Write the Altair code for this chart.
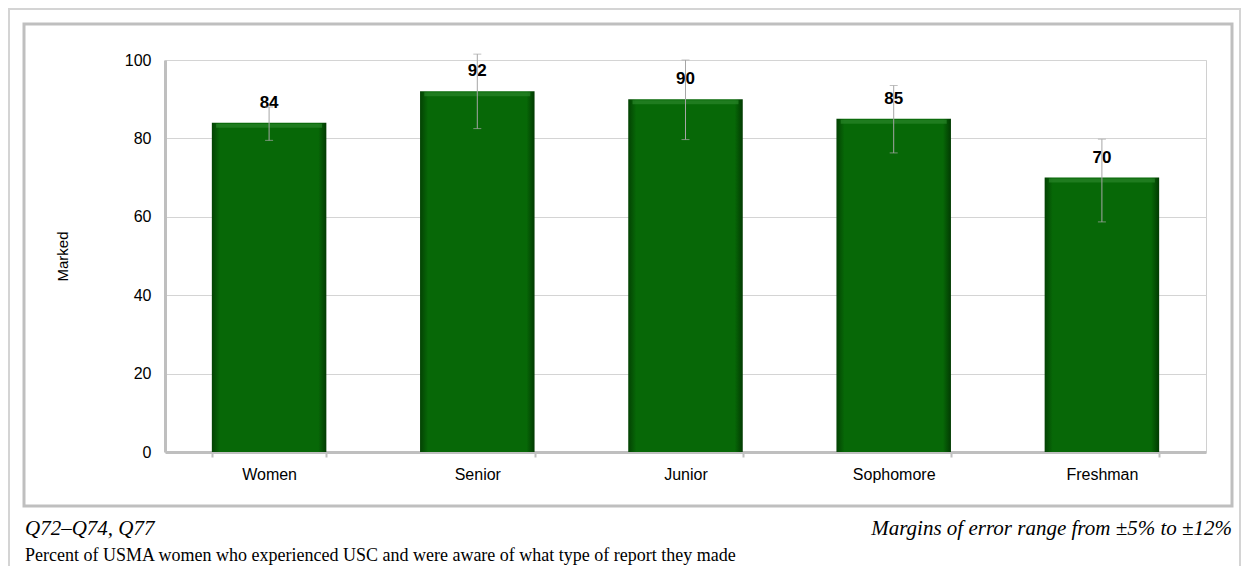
import altair as alt
import pandas as pd

categories = ["Women", "Senior", "Junior", "Sophomore", "Freshman"]
values = [84, 92, 90, 85, 70]
err_lo = [79.5, 82.5, 79.7, 76.3, 58.7]
err_hi = [88.0, 101.5, 100.0, 93.5, 79.8]
y_ticks = [0, 20, 40, 60, 80, 100]
y_title = "Marked"
note_left = "Q72–Q74, Q77"
note_right = "Margins of error range from ±5% to ±12%"
caption = "Percent of USMA  women who experienced USC and were aware of what type of report they made"

df = pd.DataFrame({"cat": categories, "val": values, "lo": err_lo, "hi": err_hi})
one = pd.DataFrame({"a": [0]})

W, H = 1041, 392
SANS = "Liberation Sans"
SERIF = "Liberation Serif"

x = alt.X("cat:N", sort=categories, title=None,
          scale=alt.Scale(paddingInner=0.45, paddingOuter=0.225),
          axis=alt.Axis(labelAngle=0, labelFont=SANS, labelFontSize=16, labelColor="#000",
                        domainColor="#bfbfbf", domainWidth=3, tickBand="extent",
                        tickColor="#bfbfbf", tickSize=5, tickWidth=2, labelPadding=9))
y = alt.Y("val:Q", title=y_title,
          scale=alt.Scale(domain=[0, 100], nice=False),
          axis=alt.Axis(values=y_ticks, labelFont=SANS, labelFontSize=16, labelColor="#000",
                        domainColor="#bfbfbf", domainWidth=3, ticks=False, labelPadding=14,
                        gridColor="#d4d4d4", gridWidth=1,
                        titleFont=SANS, titleFontSize=15, titleFontWeight="normal",
                        titleColor="#000", titleX=-103, titleY=H / 2, titleAngle=270,
                        titleBaseline="middle", titleAlign="center"))

grad = alt.Gradient(gradient="linear", x1=0, x2=1, y1=0, y2=0,
                    stops=[alt.GradientStop(color="#034203", offset=0),
                           alt.GradientStop(color="#076807", offset=0.07),
                           alt.GradientStop(color="#076807", offset=0.93),
                           alt.GradientStop(color="#023a02", offset=1)])

bars = alt.Chart(df).mark_bar(color=grad).encode(x=x, y=y)
bevel = alt.Chart(df).mark_tick(color="#2a852a", thickness=4, size=106, yOffset=3).encode(
    x=alt.X("cat:N", sort=categories), y="val:Q")
labels = alt.Chart(df).mark_text(font=SANS, fontSize=17, fontWeight="bold", color="#000",
                                 baseline="middle", dy=-20).encode(
    x=alt.X("cat:N", sort=categories), y="val:Q", text="val:Q")
err_rule = alt.Chart(df).mark_rule(color="#a6a6a6", strokeWidth=1).encode(
    x=alt.X("cat:N", sort=categories), y="lo:Q", y2="hi:Q")
cap_lo = alt.Chart(df).mark_tick(color="#a6a6a6", thickness=1, size=8).encode(
    x=alt.X("cat:N", sort=categories), y="lo:Q")
cap_hi = alt.Chart(df).mark_tick(color="#a6a6a6", thickness=1, size=8).encode(
    x=alt.X("cat:N", sort=categories), y="hi:Q")

inner_frame = alt.Chart(one).mark_rect(fill=None, stroke="#bfbfbf", strokeWidth=3).encode(
    x=alt.value(-141), x2=alt.value(1067), y=alt.value(-36), y2=alt.value(446))
outer_frame = alt.Chart(one).mark_rect(fill=None, stroke="#d4d4d4", strokeWidth=2).encode(
    x=alt.value(-156), x2=alt.value(1075), y=alt.value(-51), y2=alt.value(570))

t_left = alt.Chart(one).mark_text(font=SERIF, fontSize=21, fontStyle="italic", align="left",
                                  baseline="alphabetic", color="#000").encode(
    x=alt.value(-140), y=alt.value(475), text=alt.value(note_left))
t_right = alt.Chart(one).mark_text(font=SERIF, fontSize=21, fontStyle="italic", align="right",
                                   baseline="alphabetic", color="#000").encode(
    x=alt.value(1067), y=alt.value(475), text=alt.value(note_right))
t_cap = alt.Chart(one).mark_text(font=SERIF, fontSize=18, align="left",
                                 baseline="alphabetic", color="#000").encode(
    x=alt.value(-140), y=alt.value(501), text=alt.value(caption))

chart = alt.layer(outer_frame, inner_frame, bars, bevel, labels, err_rule, cap_lo, cap_hi,
                  t_left, t_right, t_cap).properties(
    width=W, height=H,
    autosize=alt.AutoSizeParams(type="none"),
    padding={"left": 157, "top": 52, "right": 36, "bottom": 114},
).configure_view(stroke="#d0d0d0", strokeWidth=1)

chart.save("out.html", embed_options={"renderer": "svg", "actions": False})
